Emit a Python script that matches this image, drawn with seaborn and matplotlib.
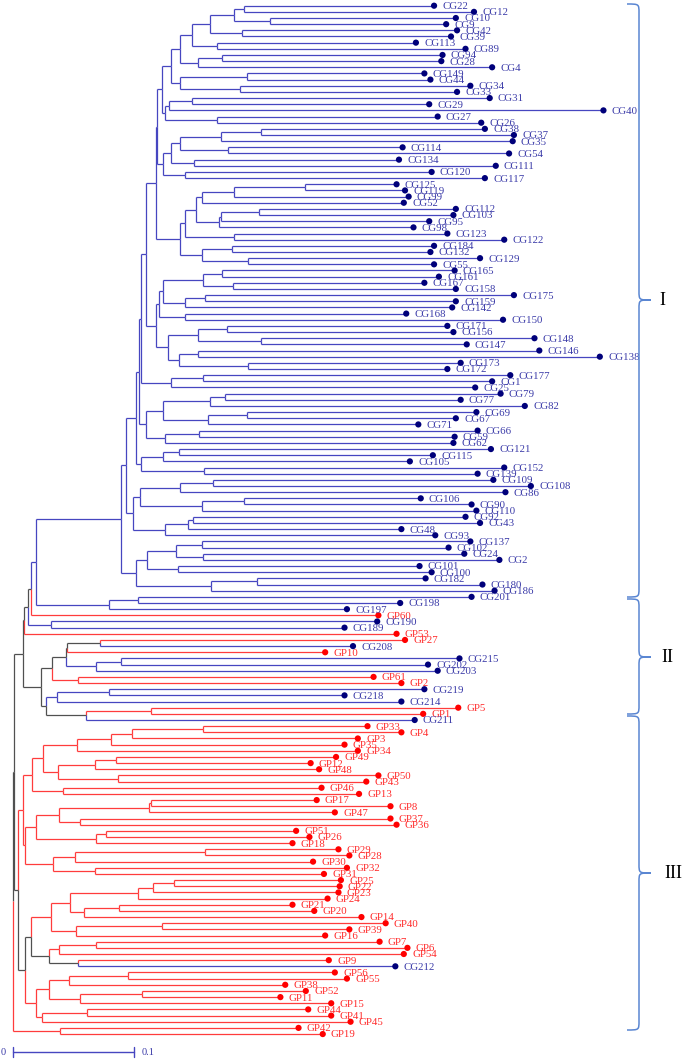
import matplotlib
matplotlib.use("Agg")
import matplotlib.pyplot as plt
import matplotlib.transforms as mtransforms
from matplotlib.path import Path
from matplotlib.patches import PathPatch
import pandas as pd
import seaborn as sns

# ---- leaves, top to bottom, with tip distance from the root ----
part_a_labels = ["CG22", "CG12", "CG10", "CG9", "CG42", "CG39", "CG113", "CG89", "CG94", "CG28",
                 "CG4", "CG149", "CG44", "CG34", "CG33", "CG31", "CG29", "CG40", "CG27", "CG26",
                 "CG38", "CG37", "CG35", "CG114", "CG54", "CG134", "CG111", "CG120", "CG117", "CG125",
                 "CG119", "CG99", "CG52", "CG112", "CG103", "CG95", "CG98", "CG123", "CG122", "CG184",
                 "CG132", "CG129"]
part_a_tips = [0.348, 0.381, 0.366, 0.358, 0.367, 0.362, 0.333, 0.374, 0.355, 0.354,
               0.396, 0.340, 0.345, 0.378, 0.367, 0.394, 0.344, 0.488, 0.351, 0.387,
               0.390, 0.414, 0.413, 0.322, 0.410, 0.319, 0.399, 0.346, 0.390, 0.317,
               0.324, 0.327, 0.323, 0.366, 0.364, 0.344, 0.331, 0.359, 0.406, 0.348,
               0.345, 0.386]

part_b_labels = ["CG55", "CG165", "CG161", "CG167", "CG158", "CG175", "CG159", "CG142", "CG168", "CG150",
                 "CG171", "CG156", "CG148", "CG147", "CG146", "CG138", "CG173", "CG172", "CG177", "CG1",
                 "CG25", "CG79", "CG77", "CG82", "CG69", "CG67", "CG71", "CG66", "CG59", "CG62",
                 "CG121", "CG115", "CG105", "CG152", "CG139", "CG109", "CG108", "CG86", "CG106", "CG90",
                 "CG110", "CG92", "CG43", "CG48", "CG93", "CG137", "CG102", "CG24", "CG2", "CG101",
                 "CG100", "CG182", "CG180", "CG186"]
part_b_tips = [0.348, 0.365, 0.352, 0.340, 0.366, 0.414, 0.366, 0.363, 0.325, 0.405,
               0.359, 0.364, 0.431, 0.375, 0.435, 0.485, 0.370, 0.359, 0.411, 0.396,
               0.382, 0.403, 0.370, 0.423, 0.383, 0.366, 0.335, 0.384, 0.365, 0.364,
               0.395, 0.347, 0.328, 0.406, 0.384, 0.397, 0.428, 0.407, 0.337, 0.379,
               0.383, 0.374, 0.386, 0.321, 0.349, 0.378, 0.360, 0.373, 0.402, 0.336,
               0.346, 0.341, 0.388, 0.398]

part_c_labels = ["CG201", "CG198", "CG197", "GP60", "CG190", "CG189", "GP53", "GP27", "CG208", "GP10",
                 "CG215", "CG202", "CG203", "GP61", "GP2", "CG219", "CG218", "CG214", "GP5", "GP1",
                 "CG211"]
part_c_tips = [0.379, 0.320, 0.276, 0.302, 0.301, 0.274, 0.317, 0.324, 0.281, 0.258,
               0.369, 0.343, 0.351, 0.298, 0.321, 0.340, 0.274, 0.321, 0.368, 0.339,
               0.332]

part_d_labels = ["GP33", "GP4", "GP3", "GP35", "GP34", "GP49", "GP12", "GP48", "GP50", "GP43",
                 "GP46", "GP13", "GP17", "GP8", "GP47", "GP37", "GP36", "GP51", "GP26", "GP18",
                 "GP29", "GP28", "GP30", "GP32", "GP31", "GP25", "GP22", "GP23", "GP24", "GP21",
                 "GP20", "GP14", "GP40", "GP39", "GP16", "GP7", "GP6", "GP54", "GP9", "CG212",
                 "GP56", "GP55", "GP38", "GP52", "GP11", "GP15", "GP44", "GP41", "GP45", "GP42",
                 "GP19"]
part_d_tips = [0.293, 0.321, 0.285, 0.274, 0.285, 0.267, 0.246, 0.253, 0.302, 0.292,
               0.255, 0.286, 0.251, 0.312, 0.266, 0.312, 0.317, 0.234, 0.245, 0.231,
               0.269, 0.278, 0.248, 0.276, 0.257, 0.271, 0.270, 0.269, 0.260, 0.231,
               0.249, 0.288, 0.308, 0.278, 0.258, 0.303, 0.326, 0.323, 0.261, 0.316,
               0.266, 0.276, 0.225, 0.242, 0.221, 0.263, 0.244, 0.263, 0.279, 0.236,
               0.256]

# ---- internal nodes: (name, child, child, distance from root), children first ----
nodes_clade1 = [
    ("A1", "CG22", "CG12", 0.191), ("A2", "CG10", "CG9", 0.212), ("A3", "A1", "A2", 0.183),
    ("A4", "CG42", "CG39", 0.189), ("A5", "A3", "A4", 0.163), ("A6", "CG113", "CG89", 0.169),
    ("A7", "A5", "A6", 0.148), ("A8", "CG94", "CG28", 0.173), ("A9", "A8", "CG4", 0.153),
    ("A10", "A7", "A9", 0.138), ("A11", "CG149", "CG44", 0.193), ("A12", "CG34", "CG33", 0.188),
    ("A13", "A11", "A12", 0.138), ("A14", "A10", "A13", 0.131),
    ("B1", "CG31", "CG29", 0.148), ("B2", "B1", "CG40", 0.129), ("B3", "CG27", "CG26", 0.169),
    ("B4", "B2", "B3", 0.126), ("A15", "A14", "B4", 0.123),
    ("B5", "CG38", "CG37", 0.205), ("B6", "B5", "CG35", 0.172), ("B7", "CG114", "CG54", 0.178),
    ("B8", "B6", "B7", 0.138), ("B9", "CG134", "CG111", 0.150), ("B10", "B8", "B9", 0.131),
    ("B11", "CG120", "CG117", 0.142), ("B12", "B10", "B11", 0.124), ("C1", "A15", "B12", 0.119),
    ("D1", "CG125", "CG119", 0.241), ("D2", "D1", "CG99", 0.183), ("D3", "D2", "CG52", 0.156),
    ("D4", "CG112", "CG103", 0.203), ("D5", "D4", "CG95", 0.172), ("D6", "D5", "CG98", 0.170),
    ("D7", "D3", "D6", 0.151), ("D8", "CG123", "CG122", 0.183), ("D9", "D7", "D8", 0.142),
    ("E1", "CG184", "CG132", 0.181), ("E2", "CG129", "CG55", 0.194), ("E3", "E1", "E2", 0.156),
    ("D10", "D9", "E3", 0.138), ("C2", "C1", "D10", 0.118),
    ("F1", "CG165", "CG161", 0.173), ("F2", "CG167", "CG158", 0.182), ("F3", "F1", "F2", 0.157),
    ("F4", "CG175", "CG159", 0.159), ("F5", "F4", "CG142", 0.142), ("F6", "F3", "F5", 0.124),
    ("F7", "CG168", "CG150", 0.142), ("F8", "F6", "F7", 0.121),
    ("G1", "CG171", "CG156", 0.177), ("G2", "CG148", "CG147", 0.205), ("G3", "G1", "G2", 0.153),
    ("G4", "CG146", "CG138", 0.153), ("G5", "CG173", "CG172", 0.194), ("G6", "G4", "G5", 0.137),
    ("G7", "G3", "G6", 0.128), ("H1", "F8", "G7", 0.118), ("C3", "C2", "H1", 0.110),
    ("I1", "CG177", "CG1", 0.157), ("I2", "I1", "CG25", 0.131), ("C4", "C3", "I2", 0.106),
    ("J1", "CG79", "CG77", 0.175), ("J2", "J1", "CG82", 0.163), ("J3", "CG69", "CG67", 0.193),
    ("J4", "J3", "CG71", 0.161), ("J5", "J2", "J4", 0.124), ("J6", "CG66", "CG59", 0.154),
    ("J7", "J6", "CG62", 0.126), ("J8", "J5", "J7", 0.110), ("C5", "C4", "J8", 0.104),
    ("K1", "CG121", "CG115", 0.137), ("K2", "K1", "CG105", 0.124), ("K3", "CG152", "CG139", 0.158),
    ("K4", "K2", "K3", 0.1055), ("C6", "C5", "K4", 0.102),
    ("L1", "CG109", "CG108", 0.165), ("L2", "L1", "CG86", 0.138), ("L3", "CG106", "CG90", 0.191),
    ("L4", "L3", "CG110", 0.156), ("L9", "L2", "L4", 0.105),
    ("L5", "CG92", "CG43", 0.149), ("L6", "L5", "CG48", 0.145), ("L7", "L6", "CG93", 0.126),
    ("L8", "L9", "L7", 0.099), ("C7", "C6", "L8", 0.093),
    ("M1", "CG137", "CG102", 0.156), ("M2", "CG24", "CG2", 0.157), ("M3", "M1", "M2", 0.135),
    ("M4", "CG101", "CG100", 0.136), ("M5", "CG182", "CG180", 0.202), ("M6", "M5", "CG186", 0.164),
    ("M7", "M3", "M4", 0.111), ("M8", "M7", "M6", 0.102), ("C8", "C7", "M8", 0.089),
]

nodes_clade2 = [
    ("N1", "CG201", "CG198", 0.103), ("N2", "N1", "CG197", 0.079), ("O1", "C8", "N2", 0.019),
    ("O2", "O1", "GP60", 0.015), ("P1", "CG190", "CG189", 0.031), ("O3", "O2", "P1", 0.012),
    ("O4", "O3", "GP53", 0.009),
    ("Q1", "GP27", "CG208", 0.072), ("Q2", "Q1", "GP10", 0.045), ("Q3", "CG215", "CG202", 0.089),
    ("Q4", "Q3", "CG203", 0.069), ("Q5", "Q2", "Q4", 0.044), ("Q7", "GP61", "GP2", 0.054),
    ("Q6", "Q5", "Q7", 0.032),
    ("R1", "CG219", "CG218", 0.079), ("R2", "R1", "CG214", 0.036), ("R3", "GP5", "GP1", 0.114),
    ("R4", "R3", "CG211", 0.060), ("R5", "R2", "R4", 0.027), ("Q8", "Q6", "R5", 0.023),
    ("O5", "O4", "Q8", 0.008),
]

nodes_clade3 = [
    ("T1", "GP33", "GP4", 0.157), ("T2", "T1", "GP3", 0.098), ("T3", "T2", "GP35", 0.081),
    ("T4", "T3", "GP34", 0.053), ("T5", "GP49", "GP12", 0.085), ("T6", "T5", "GP48", 0.068),
    ("T7", "GP50", "GP43", 0.087), ("T8", "T6", "T7", 0.037), ("T9", "T4", "T8", 0.025),
    ("T10", "GP46", "GP13", 0.041), ("T11", "T9", "T10", 0.016),
    ("U1", "GP17", "GP8", 0.114), ("U2", "U1", "GP47", 0.112), ("U3", "GP37", "GP36", 0.055),
    ("U4", "U2", "U3", 0.038), ("U5", "GP51", "GP26", 0.077), ("U6", "U5", "GP18", 0.069),
    ("U7", "U4", "U6", 0.019),
    ("V1", "GP29", "GP28", 0.159), ("V2", "V1", "GP30", 0.051), ("V3", "GP32", "GP31", 0.068),
    ("V4", "V2", "V3", 0.033), ("V5", "U7", "V4", 0.010), ("W1", "T11", "V5", 0.008),
    ("X1", "GP25", "GP22", 0.133), ("X2", "X1", "GP23", 0.116), ("X3", "X2", "GP24", 0.103),
    ("X4", "GP21", "GP20", 0.088), ("X5", "X4", "GP14", 0.059), ("X6", "X3", "X5", 0.047),
    ("Y1", "GP40", "GP39", 0.123), ("Y2", "Y1", "GP16", 0.052), ("AB1", "X6", "Y2", 0.031),
    ("Z1", "GP7", "GP6", 0.069), ("Z2", "Z1", "GP54", 0.038), ("Z3", "GP9", "CG212", 0.054),
    ("Z4", "Z2", "Z3", 0.030), ("AB2", "AB1", "Z4", 0.015),
    ("AC1", "GP56", "GP55", 0.095), ("AC2", "AC1", "GP38", 0.046), ("AC3", "GP52", "GP11", 0.107),
    ("AC4", "AC3", "GP15", 0.055), ("AC5", "AC2", "AC4", 0.030), ("AC6", "GP44", "GP41", 0.061),
    ("AC7", "AC6", "GP45", 0.024), ("AC8", "AC5", "AC7", 0.019), ("AC9", "AB2", "AC8", 0.010),
    ("AD", "W1", "AC9", 0.004), ("AE1", "GP42", "GP19", 0.039),
]

nodes_root = [("R0", "O5", "AD", 0.0005), ("ROOT", "R0", "AE1", 0.0)]

BLUE, RED, GRAY = "#4646c0", "#ff3c3c", "#505050"
DOT = {"CG": "#00007a", "GP": "#ff0000"}
TXT = {"CG": "#3a3aa8", "GP": "#ff2a2a"}

labels = part_a_labels + part_b_labels + part_c_labels + part_d_labels
tips = part_a_tips + part_b_tips + part_c_tips + part_d_tips
nodes = nodes_clade1 + nodes_clade2 + nodes_clade3 + nodes_root

leaves = pd.DataFrame({"label": labels, "tip": tips})
leaves["pos"] = range(len(leaves))
leaves["group"] = leaves["label"].str[:2]

xpos = dict(zip(leaves["label"], leaves["tip"]))
ypos = dict(zip(leaves["label"], leaves["pos"]))
col = {lab: (BLUE if g == "CG" else RED) for lab, g in zip(leaves["label"], leaves["group"])}
for name, a, b, h in nodes:
    xpos[name] = h
    ypos[name] = (ypos[a] + ypos[b]) / 2
    col[name] = col[a] if col[a] == col[b] else GRAY

sns.set_theme(style="white")
fig = plt.figure(figsize=(6.85, 10.63), dpi=100)
ax = fig.add_axes([0, 0, 1, 1])

lw = 0.9
for name, a, b, h in nodes:
    for c in (a, b):
        ax.plot([h, xpos[c]], [ypos[c], ypos[c]], color=col[c], lw=lw, solid_capstyle="butt")
        ax.plot([h, h], [ypos[name], ypos[c]], color=col[c], lw=lw, solid_capstyle="butt")

sns.scatterplot(data=leaves, x="tip", y="pos", hue="group", palette=DOT, s=20,
                edgecolor="none", legend=False, ax=ax, zorder=3)

for lab, t, p, g in zip(leaves["label"], leaves["tip"], leaves["pos"], leaves["group"]):
    ax.text(t + 0.0068, p + 0.15, lab, color=TXT[g], fontsize=7.8, va="center", ha="left",
            family="Liberation Serif")

# scale bar
sb_y = 169.93
ax.plot([0, 0.1], [sb_y, sb_y], color=BLUE, lw=1)
ax.plot([0, 0], [sb_y - 0.8, sb_y + 0.8], color=BLUE, lw=1)
ax.plot([0.1, 0.1], [sb_y - 0.8, sb_y + 0.8], color=BLUE, lw=1)
ax.text(-0.0083, sb_y, "0", color=TXT["CG"], fontsize=7.5, ha="center", va="center",
        family="Liberation Serif")
ax.text(0.1115, sb_y, "0.1", color=TXT["CG"], fontsize=7.5, ha="center", va="center",
        family="Liberation Serif")

ax.set_xlim(-0.01074, 0.5554)
ax.set_ylim(171.7, -0.926)
ax.set_axis_off()

# curly braces on the right, drawn in pixel space (top-left origin)
pix = mtransforms.Affine2D().scale(1 / 685, -1 / 1063).translate(0, 1) + fig.transFigure


def brace(y0, y1, ym, xl=627, xc=639, xt=651, r=9):
    verts = [(xl, y0), (xc, y0), (xc, y0), (xc, y0 + r),
             (xc, ym - r), (xc, ym), (xc, ym), (xt, ym),
             (xc, ym), (xc, ym), (xc, ym + r),
             (xc, y1 - r), (xc, y1), (xc, y1), (xl, y1)]
    codes = [Path.MOVETO, Path.CURVE4, Path.CURVE4, Path.CURVE4,
             Path.LINETO, Path.CURVE4, Path.CURVE4, Path.CURVE4,
             Path.CURVE4, Path.CURVE4, Path.CURVE4,
             Path.LINETO, Path.CURVE4, Path.CURVE4, Path.CURVE4]
    fig.patches.append(PathPatch(Path(verts, codes), fill=False, edgecolor="#5a86d2",
                                 lw=1.1, transform=pix))


brace(4, 597, 300)
brace(599, 714, 657)
brace(716, 1030, 873)
for txt, yy, xx in [("I", 300, 662), ("II", 657, 667), ("III", 873, 673)]:
    fig.text(xx / 685, 1 - yy / 1063, txt, fontsize=13, ha="center", va="center",
             family="Liberation Serif", color="black")

fig.savefig("out.png", dpi=100)
